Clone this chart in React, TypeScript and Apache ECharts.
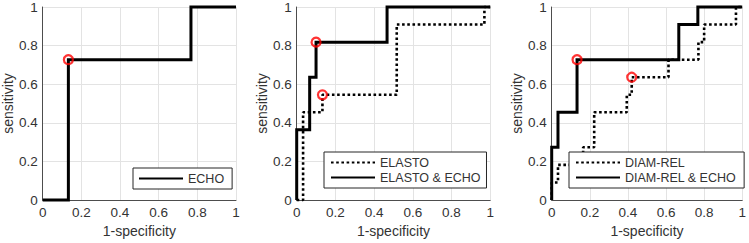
import React, { useEffect, useRef } from "react";
import * as echarts from "echarts";

const echoRoc = [[0, 0], [0.133, 0], [0.133, 0.727], [0.767, 0.727], [0.767, 1], [1, 1]];
const echoOpt = [[0.133, 0.727]];

const elastoRoc = [[0, 0], [0.033, 0], [0.033, 0.455], [0.133, 0.455], [0.133, 0.545], [0.517, 0.545], [0.517, 0.909], [0.97, 0.909], [0.97, 1], [1, 1]];
const elastoOpt = [[0.133, 0.545]];
const elastoEchoRoc = [[0, 0], [0, 0.364], [0.067, 0.364], [0.067, 0.636], [0.1, 0.636], [0.1, 0.818], [0.467, 0.818], [0.467, 1], [1, 1]];
const elastoEchoOpt = [[0.1, 0.818]];

const diamRoc = [[0, 0], [0, 0.091], [0.033, 0.091], [0.033, 0.182], [0.165, 0.182], [0.165, 0.273], [0.223, 0.273], [0.223, 0.455], [0.394, 0.455], [0.394, 0.545], [0.42, 0.545], [0.42, 0.636], [0.613, 0.636], [0.613, 0.727], [0.77, 0.727], [0.77, 0.818], [0.8, 0.818], [0.8, 0.909], [0.967, 0.909], [0.967, 1], [1, 1]];
const diamOpt = [[0.42, 0.636]];
const diamEchoRoc = [[0, 0], [0, 0.273], [0.033, 0.273], [0.033, 0.455], [0.133, 0.455], [0.133, 0.727], [0.667, 0.727], [0.667, 0.909], [0.767, 0.909], [0.767, 1], [1, 1]];
const diamEchoOpt = [[0.133, 0.727]];

const xTitle = "1-specificity";
const yTitle = "sensitivity";

const FONT = "'Liberation Sans', Arial, Helvetica, sans-serif";
const TEXT = "#333333";

export default function App() {
  const ref = useRef<HTMLDivElement>(null);
  useEffect(() => {
    if (!ref.current) return;
    const chart = echarts.init(ref.current, undefined, { renderer: "svg" });
    const grids = [
      { left: 42, top: 6, width: 194, height: 194 },
      { left: 296.7, top: 6, width: 193.5, height: 194 },
      { left: 551.7, top: 6, width: 194, height: 194 },
    ];
    const mkX = (i: number) => ({
      type: "value", gridIndex: i, min: 0, max: 1, interval: 0.2,
      name: xTitle, nameLocation: "middle", nameGap: 24,
      nameTextStyle: { color: TEXT, fontSize: 14, fontFamily: FONT },
      axisLine: { show: true, lineStyle: { color: "#4d4d4d", width: 1 } },
      axisTick: { show: false },
      axisLabel: { color: TEXT, fontSize: 13.5, fontFamily: FONT, margin: 5 },
      splitLine: { show: true, lineStyle: { color: "#e3e3e3", width: 1 } },
    });
    const mkY = (i: number) => ({
      type: "value", gridIndex: i, min: 0, max: 1, interval: 0.2,
      name: yTitle, nameLocation: "middle", nameGap: 26, nameRotate: 90,
      nameTextStyle: { color: TEXT, fontSize: 14, fontFamily: FONT },
      axisLine: { show: true, lineStyle: { color: "#4d4d4d", width: 1 } },
      axisTick: { show: false },
      axisLabel: { color: TEXT, fontSize: 13.5, fontFamily: FONT, margin: 5 },
      splitLine: { show: true, lineStyle: { color: "#e3e3e3", width: 1 } },
    });
    const solid = (name: string, data: number[][], i: number) => ({
      name, type: "line", xAxisIndex: i, yAxisIndex: i, data, symbol: "none",
      clip: false, lineStyle: { color: "#000", width: 3, type: "solid", cap: "butt", join: "miter" },
      itemStyle: { color: "#000" }, z: 3,
    });
    const dotted = (name: string, data: number[][], i: number) => ({
      name, type: "line", xAxisIndex: i, yAxisIndex: i, data, symbol: "none",
      clip: false, lineStyle: { color: "#000", width: 2.6, type: [2.6, 2.6], cap: "butt" },
      itemStyle: { color: "#000" }, z: 3,
    });
    const marker = (data: number[][], i: number) => ({
      type: "scatter", xAxisIndex: i, yAxisIndex: i, data, symbol: "circle", symbolSize: 9,
      clip: false, itemStyle: { color: "rgba(0,0,0,0)", borderColor: "#ff0000", borderWidth: 2.2 }, z: 5,
      silent: true,
    });
    const legendBase = {
      orient: "vertical", itemWidth: 44, itemHeight: 14, itemGap: 2,
      backgroundColor: "#fff", borderColor: "#262626", borderWidth: 1, borderRadius: 0,
      textStyle: { color: TEXT, fontSize: 12.5, fontFamily: FONT },
      itemStyle: { opacity: 0, borderWidth: 0 },
      z: 10, selectedMode: false,
    };
    chart.setOption({
      animation: false,
      grid: grids,
      xAxis: [mkX(0), mkX(1), mkX(2)],
      yAxis: [mkY(0), mkY(1), mkY(2)],
      legend: [
        { ...legendBase, data: ["ECHO"], left: 133, top: 168, padding: [4, 8, 4, 5] },
        { ...legendBase, data: ["ELASTO", "ELASTO & ECHO"], left: 324, top: 152, padding: [4, 6, 4, 6] },
        { ...legendBase, data: ["DIAM-REL", "DIAM-REL & ECHO"], left: 569, top: 152, padding: [4, 8, 4, 6] },
      ],
      series: [
        solid("ECHO", echoRoc, 0),
        marker(echoOpt, 0),
        dotted("ELASTO", elastoRoc, 1),
        solid("ELASTO & ECHO", elastoEchoRoc, 1),
        marker(elastoOpt, 1),
        marker(elastoEchoOpt, 1),
        dotted("DIAM-REL", diamRoc, 2),
        solid("DIAM-REL & ECHO", diamEchoRoc, 2),
        marker(diamOpt, 2),
        marker(diamEchoOpt, 2),
      ],
    });
    return () => chart.dispose();
  }, []);
  return (
    <div
      ref={ref}
      style={{ position: "absolute", left: 0, top: 0, width: 749, height: 243, background: "#fff" }}
    />
  );
}
